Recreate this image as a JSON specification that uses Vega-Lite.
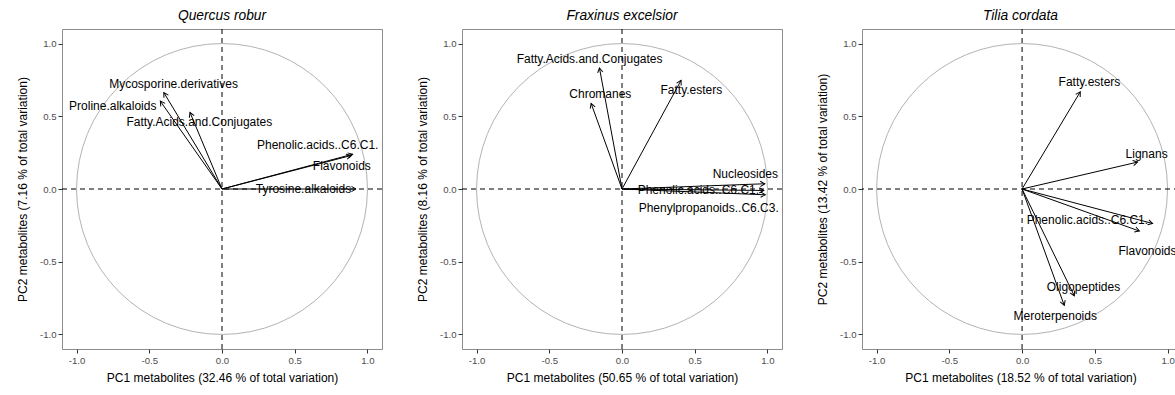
{
  "$schema": "https://vega.github.io/schema/vega-lite/v6.json",
  "padding": {"left": 15, "top": 8, "right": 0, "bottom": 0},
  "background": "white",
  "spacing": 32,
  "config": {
    "font": "Liberation Sans",
    "view": {"stroke": "#8c8c8c", "strokeWidth": 1},
    "axis": {
      "grid": false, "domain": false, "tickColor": "#333333", "tickSize": 4,
      "labelColor": "#4d4d4d", "labelFontSize": 9.6, "labelFont": "Liberation Sans", "labelPadding": 2,
      "titleFont": "Liberation Sans", "titleFontSize": 12, "titleFontWeight": "normal", "titleColor": "#000000",
      "labelExpr": "datum.value < 0 ? '-' + format(-datum.value, '.1f') : format(datum.value, '.1f')"
    },
    "axisX": {"titlePadding": 8},
    "axisY": {"titlePadding": 10},
    "title": {"font": "Liberation Sans", "fontSize": 13.8, "fontStyle": "italic", "fontWeight": "normal", "color": "#000000", "offset": 6}
  },
  "datasets": {
    "arrows": [
      {"panel": "Quercus robur", "name": "Mycosporine.derivatives", "x": -0.40, "y": 0.663, "lx": -0.333, "ly": 0.724},
      {"panel": "Quercus robur", "name": "Proline.alkaloids", "x": -0.424, "y": 0.604, "lx": -0.751, "ly": 0.572},
      {"panel": "Quercus robur", "name": "Fatty.Acids.and.Conjugates", "x": -0.22, "y": 0.526, "lx": -0.156, "ly": 0.458},
      {"panel": "Quercus robur", "name": "Phenolic.acids..C6.C1.", "x": 0.898, "y": 0.239, "lx": 0.658, "ly": 0.303},
      {"panel": "Quercus robur", "name": "Flavonoids", "x": 0.887, "y": 0.23, "lx": 0.824, "ly": 0.155},
      {"panel": "Quercus robur", "name": "Tyrosine.alkaloids", "x": 0.921, "y": 0.0, "lx": 0.56, "ly": 0.0},
      {"panel": "Fraxinus excelsior", "name": "Fatty.Acids.and.Conjugates", "x": -0.155, "y": 0.832, "lx": -0.223, "ly": 0.896},
      {"panel": "Fraxinus excelsior", "name": "Chromanes", "x": -0.212, "y": 0.588, "lx": -0.149, "ly": 0.656},
      {"panel": "Fraxinus excelsior", "name": "Fatty.esters", "x": 0.406, "y": 0.747, "lx": 0.477, "ly": 0.684},
      {"panel": "Fraxinus excelsior", "name": "Nucleosides", "x": 0.982, "y": 0.036, "lx": 0.848, "ly": 0.105},
      {"panel": "Fraxinus excelsior", "name": "Phenolic.acids..C6.C1.", "x": 0.975, "y": -0.01, "lx": 0.525, "ly": -0.009},
      {"panel": "Fraxinus excelsior", "name": "Phenylpropanoids..C6.C3.", "x": 0.985, "y": -0.04, "lx": 0.596, "ly": -0.13},
      {"panel": "Tilia cordata", "name": "Fatty.esters", "x": 0.40, "y": 0.668, "lx": 0.463, "ly": 0.736},
      {"panel": "Tilia cordata", "name": "Lignans", "x": 0.794, "y": 0.185, "lx": 0.856, "ly": 0.241},
      {"panel": "Tilia cordata", "name": "Phenolic.acids..C6.C1.", "x": 0.897, "y": -0.237, "lx": 0.449, "ly": -0.214},
      {"panel": "Tilia cordata", "name": "Flavonoids", "x": 0.806, "y": -0.289, "lx": 0.862, "ly": -0.426},
      {"panel": "Tilia cordata", "name": "Oligopeptides", "x": 0.359, "y": -0.734, "lx": 0.422, "ly": -0.672},
      {"panel": "Tilia cordata", "name": "Meroterpenoids", "x": 0.29, "y": -0.80, "lx": 0.228, "ly": -0.87}
    ],
    "origin": [{"cx": 0, "cy": 0}]
  },
  "hconcat": [
    {
      "title": "Quercus robur",
      "width": 320, "height": 320,
      "layer": [
        {"data": {"name": "origin"}, "mark": {"type": "point", "shape": "circle", "size": 84628, "filled": false, "stroke": "#b3b3b3", "strokeWidth": 1, "opacity": 1},
         "encoding": {"x": {"field": "cx", "type": "quantitative", "scale": {"domain": [-1.1, 1.1], "nice": false, "zero": false}, "axis": {"values": [-1, -0.5, 0, 0.5, 1]}, "title": "PC1 metabolites (32.46 % of total variation)"},
                      "y": {"field": "cy", "type": "quantitative", "scale": {"domain": [-1.1, 1.1], "nice": false, "zero": false}, "axis": {"values": [-1, -0.5, 0, 0.5, 1]}, "title": "PC2 metabolites (7.16 % of total variation)"}}},
        {"data": {"name": "origin"}, "mark": {"type": "rule", "color": "#000000", "strokeWidth": 1, "strokeDash": [5, 4]}, "encoding": {"x": {"field": "cx", "type": "quantitative"}}},
        {"data": {"name": "origin"}, "mark": {"type": "rule", "color": "#000000", "strokeWidth": 1, "strokeDash": [5, 4]}, "encoding": {"y": {"field": "cy", "type": "quantitative"}}},
        {"data": {"name": "arrows"}, "transform": [{"filter": "datum.panel == 'Quercus robur'"}],
         "mark": {"type": "rule", "color": "#000000", "strokeWidth": 1},
         "encoding": {"x": {"field": "x", "type": "quantitative"}, "y": {"field": "y", "type": "quantitative"}, "x2": {"datum": 0}, "y2": {"datum": 0}}},
        {"data": {"name": "arrows"}, "transform": [{"filter": "datum.panel == 'Quercus robur'"}, {"calculate": "atan2(datum.x, datum.y) * 180 / PI", "as": "ang"}],
         "mark": {"type": "point", "shape": "M-0.5,0.866L0,0L0.5,0.866", "size": 110, "filled": false, "stroke": "#000000", "strokeWidth": 1, "opacity": 1},
         "encoding": {"x": {"field": "x", "type": "quantitative"}, "y": {"field": "y", "type": "quantitative"}, "angle": {"field": "ang", "type": "quantitative", "scale": null}}},
        {"data": {"name": "arrows"}, "transform": [{"filter": "datum.panel == 'Quercus robur'"}],
         "mark": {"type": "text", "fontSize": 12, "color": "#000000", "align": "center", "baseline": "middle"},
         "encoding": {"x": {"field": "lx", "type": "quantitative"}, "y": {"field": "ly", "type": "quantitative"}, "text": {"field": "name"}}}
      ]
    },
    {
      "title": "Fraxinus excelsior",
      "width": 320, "height": 320,
      "layer": [
        {"data": {"name": "origin"}, "mark": {"type": "point", "shape": "circle", "size": 84628, "filled": false, "stroke": "#b3b3b3", "strokeWidth": 1, "opacity": 1},
         "encoding": {"x": {"field": "cx", "type": "quantitative", "scale": {"domain": [-1.1, 1.1], "nice": false, "zero": false}, "axis": {"values": [-1, -0.5, 0, 0.5, 1]}, "title": "PC1 metabolites (50.65 % of total variation)"},
                      "y": {"field": "cy", "type": "quantitative", "scale": {"domain": [-1.1, 1.1], "nice": false, "zero": false}, "axis": {"values": [-1, -0.5, 0, 0.5, 1]}, "title": "PC2 metabolites (8.16 % of total variation)"}}},
        {"data": {"name": "origin"}, "mark": {"type": "rule", "color": "#000000", "strokeWidth": 1, "strokeDash": [5, 4]}, "encoding": {"x": {"field": "cx", "type": "quantitative"}}},
        {"data": {"name": "origin"}, "mark": {"type": "rule", "color": "#000000", "strokeWidth": 1, "strokeDash": [5, 4]}, "encoding": {"y": {"field": "cy", "type": "quantitative"}}},
        {"data": {"name": "arrows"}, "transform": [{"filter": "datum.panel == 'Fraxinus excelsior'"}],
         "mark": {"type": "rule", "color": "#000000", "strokeWidth": 1},
         "encoding": {"x": {"field": "x", "type": "quantitative"}, "y": {"field": "y", "type": "quantitative"}, "x2": {"datum": 0}, "y2": {"datum": 0}}},
        {"data": {"name": "arrows"}, "transform": [{"filter": "datum.panel == 'Fraxinus excelsior'"}, {"calculate": "atan2(datum.x, datum.y) * 180 / PI", "as": "ang"}],
         "mark": {"type": "point", "shape": "M-0.5,0.866L0,0L0.5,0.866", "size": 110, "filled": false, "stroke": "#000000", "strokeWidth": 1, "opacity": 1},
         "encoding": {"x": {"field": "x", "type": "quantitative"}, "y": {"field": "y", "type": "quantitative"}, "angle": {"field": "ang", "type": "quantitative", "scale": null}}},
        {"data": {"name": "arrows"}, "transform": [{"filter": "datum.panel == 'Fraxinus excelsior'"}],
         "mark": {"type": "text", "fontSize": 12, "color": "#000000", "align": "center", "baseline": "middle"},
         "encoding": {"x": {"field": "lx", "type": "quantitative"}, "y": {"field": "ly", "type": "quantitative"}, "text": {"field": "name"}}}
      ]
    },
    {
      "title": "Tilia cordata",
      "width": 317, "height": 320,
      "layer": [
        {"data": {"name": "origin"}, "mark": {"type": "point", "shape": "circle", "size": 84628, "filled": false, "stroke": "#b3b3b3", "strokeWidth": 1, "opacity": 1},
         "encoding": {"x": {"field": "cx", "type": "quantitative", "scale": {"domain": [-1.1, 1.0785], "nice": false, "zero": false}, "axis": {"values": [-1, -0.5, 0, 0.5, 1]}, "title": "PC1 metabolites (18.52 % of total variation)"},
                      "y": {"field": "cy", "type": "quantitative", "scale": {"domain": [-1.1, 1.1], "nice": false, "zero": false}, "axis": {"values": [-1, -0.5, 0, 0.5, 1]}, "title": "PC2 metabolites (13.42 % of total variation)"}}},
        {"data": {"name": "origin"}, "mark": {"type": "rule", "color": "#000000", "strokeWidth": 1, "strokeDash": [5, 4]}, "encoding": {"x": {"field": "cx", "type": "quantitative"}}},
        {"data": {"name": "origin"}, "mark": {"type": "rule", "color": "#000000", "strokeWidth": 1, "strokeDash": [5, 4]}, "encoding": {"y": {"field": "cy", "type": "quantitative"}}},
        {"data": {"name": "arrows"}, "transform": [{"filter": "datum.panel == 'Tilia cordata'"}],
         "mark": {"type": "rule", "color": "#000000", "strokeWidth": 1},
         "encoding": {"x": {"field": "x", "type": "quantitative"}, "y": {"field": "y", "type": "quantitative"}, "x2": {"datum": 0}, "y2": {"datum": 0}}},
        {"data": {"name": "arrows"}, "transform": [{"filter": "datum.panel == 'Tilia cordata'"}, {"calculate": "atan2(datum.x, datum.y) * 180 / PI", "as": "ang"}],
         "mark": {"type": "point", "shape": "M-0.5,0.866L0,0L0.5,0.866", "size": 110, "filled": false, "stroke": "#000000", "strokeWidth": 1, "opacity": 1},
         "encoding": {"x": {"field": "x", "type": "quantitative"}, "y": {"field": "y", "type": "quantitative"}, "angle": {"field": "ang", "type": "quantitative", "scale": null}}},
        {"data": {"name": "arrows"}, "transform": [{"filter": "datum.panel == 'Tilia cordata'"}],
         "mark": {"type": "text", "fontSize": 12, "color": "#000000", "align": "center", "baseline": "middle"},
         "encoding": {"x": {"field": "lx", "type": "quantitative"}, "y": {"field": "ly", "type": "quantitative"}, "text": {"field": "name"}}}
      ]
    }
  ]
}
